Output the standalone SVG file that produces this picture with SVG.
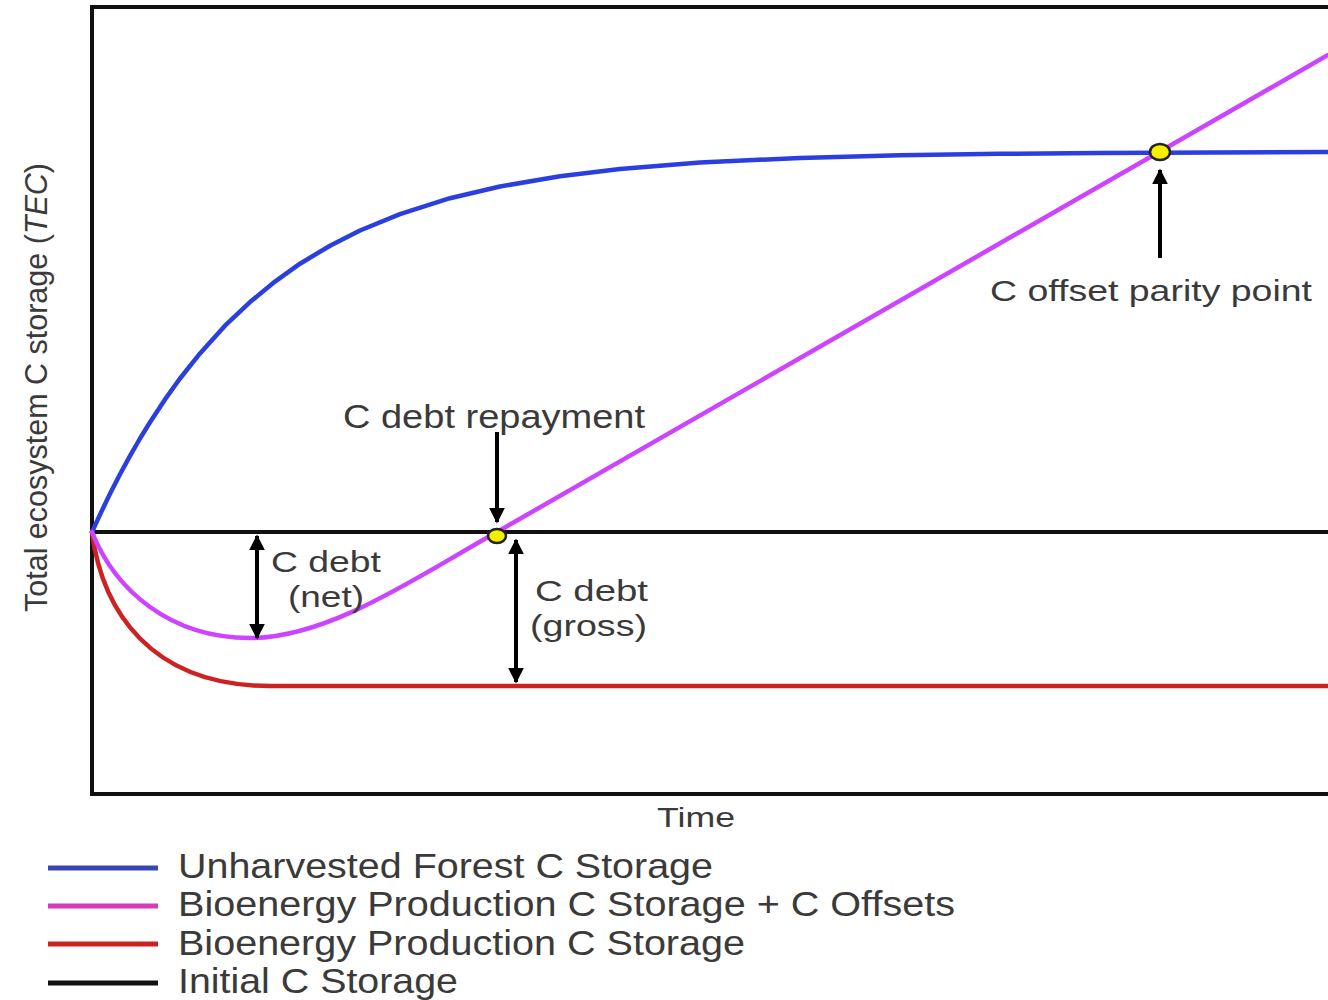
<svg xmlns="http://www.w3.org/2000/svg" width="1328" height="1000" viewBox="0 0 1328 1000">
<style>
.t{font-family:"Liberation Sans",Arial,sans-serif;fill:#3a3a3a;}
.ax{fill:none;stroke:#111;stroke-width:4;}
.crv{fill:none;stroke-width:4.5;stroke-linecap:round;stroke-linejoin:round;}
.arr{stroke:#000;stroke-width:4;fill:none;}
.dot{fill:#f4f000;stroke:#222;stroke-width:2.5;}
.lg{stroke-width:5;}
</style>
<defs>
<marker id="ah" viewBox="0 0 10 10" refX="9" refY="5" markerWidth="16" markerHeight="16" markerUnits="userSpaceOnUse" orient="auto-start-reverse">
<path d="M0,0 L10,5 L0,10 Z" fill="#000"/>
</marker>
</defs>
<rect width="1328" height="1000" fill="#fff"/>
<g id="axes">
<rect class="ax" x="92" y="7" width="1300" height="787"/>
<line class="ax" x1="92" y1="532" x2="1328" y2="532"/>
</g>
<g id="curves">
<polyline id="blue" class="crv" stroke="#2b3fe0" points="92,532 100,514.6 110,493.8 120,474.3 130,455.9 140,438.5 150,422.2 165,399.4 180,378.5 200,353.4 225,325.7 250,302.1 275,281.6 300,263.7 330,245.7 360,230.5 400,214.1 450,198.2 500,186.5 560,176.2 620,169 700,162.6 800,157.9 900,155.3 1000,153.8 1100,153 1328,152"/>
<path id="red" class="crv" stroke="#cc2222" d="M92,532 C102,610 150,686 270,686 L1328,686"/>
<path id="magenta" class="crv" stroke="#cc44ff" d="M92,532 C115,590 170,638 250,638 C330,638 420,575 497,532 L1328,55"/>
</g>
<g id="connectors">
<line class="arr" x1="497" y1="432" x2="497" y2="522" marker-end="url(#ah)"/>
<line class="arr" x1="1160" y1="258" x2="1160" y2="170" marker-end="url(#ah)"/>
<line class="arr" x1="257" y1="536" x2="257" y2="638" marker-start="url(#ah)" marker-end="url(#ah)"/>
<line class="arr" x1="516" y1="540" x2="516" y2="682" marker-start="url(#ah)" marker-end="url(#ah)"/>
</g>
<g id="points">
<ellipse id="repay-pt" class="dot" cx="497" cy="536" rx="9" ry="7"/>
<ellipse id="parity-pt" class="dot" cx="1160" cy="152" rx="10" ry="8"/>
</g>
<g id="labels">
<text class="t" x="343" y="428" font-size="34" textLength="302" lengthAdjust="spacingAndGlyphs">C debt repayment</text>
<text class="t" x="990" y="301" font-size="30" textLength="322" lengthAdjust="spacingAndGlyphs">C offset parity point</text>
<text class="t" x="271" y="572" font-size="29" textLength="110" lengthAdjust="spacingAndGlyphs">C debt</text>
<text class="t" x="288" y="607" font-size="29" textLength="76" lengthAdjust="spacingAndGlyphs">(net)</text>
<text class="t" x="535" y="601" font-size="29" textLength="113" lengthAdjust="spacingAndGlyphs">C debt</text>
<text class="t" x="530" y="636" font-size="29" textLength="117" lengthAdjust="spacingAndGlyphs">(gross)</text>
<text class="t" x="657" y="827" font-size="28" textLength="78" lengthAdjust="spacingAndGlyphs">Time</text>
<text class="t" transform="translate(47,612) rotate(-90)" font-size="32" textLength="449" lengthAdjust="spacingAndGlyphs">Total ecosystem C storage (<tspan font-style="italic">TEC</tspan>)</text>
</g>
<g id="legend">
<line class="lg" x1="48" y1="868" x2="158" y2="868" stroke="#3a45b5"/>
<line class="lg" x1="48" y1="906" x2="158" y2="906" stroke="#d63cb8"/>
<line class="lg" x1="48" y1="944" x2="158" y2="944" stroke="#cc2222"/>
<line class="lg" x1="48" y1="983" x2="158" y2="983" stroke="#111"/>
<text class="t" x="178" y="878" font-size="35" textLength="535" lengthAdjust="spacingAndGlyphs">Unharvested Forest C Storage</text>
<text class="t" x="178" y="916" font-size="35" textLength="777" lengthAdjust="spacingAndGlyphs">Bioenergy Production C Storage + C Offsets</text>
<text class="t" x="178" y="955" font-size="35" textLength="567" lengthAdjust="spacingAndGlyphs">Bioenergy Production C Storage</text>
<text class="t" x="178" y="993" font-size="35" textLength="280" lengthAdjust="spacingAndGlyphs">Initial C Storage</text>
</g>
</svg>
